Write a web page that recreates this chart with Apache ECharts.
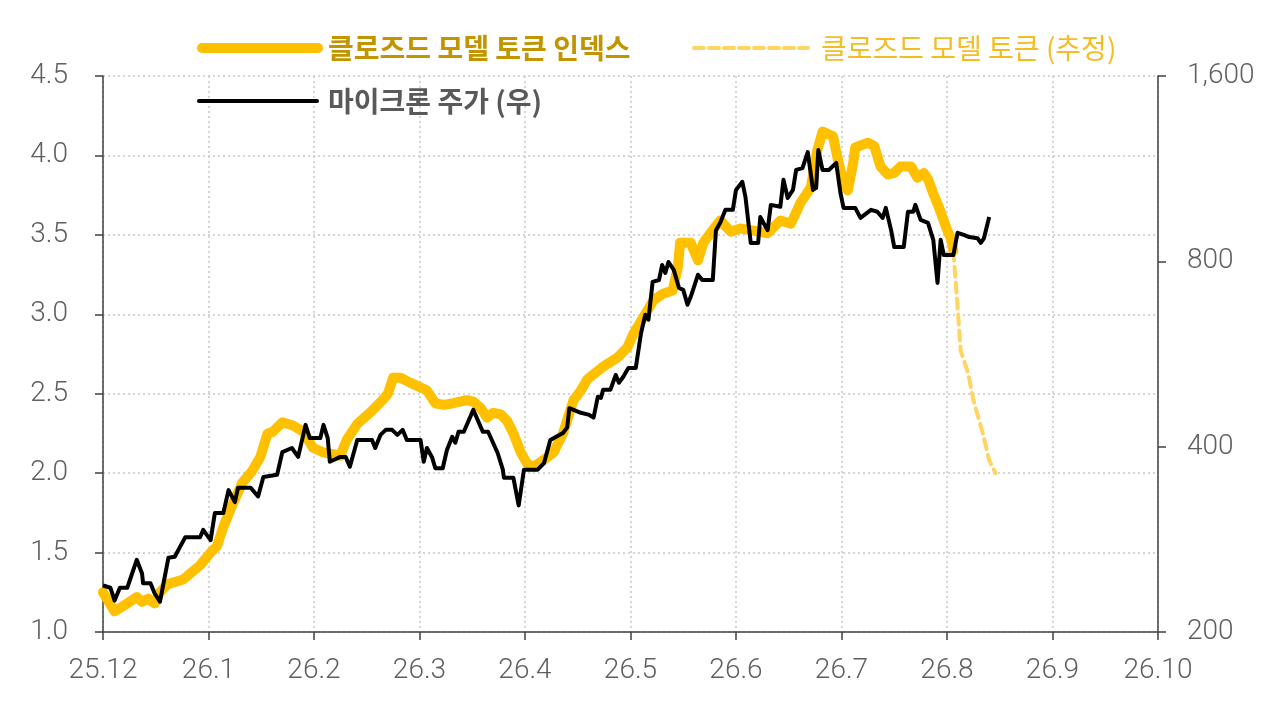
<!DOCTYPE html>
<html>
<head>
<meta charset="utf-8">
<title>클로즈드 모델 토큰 인덱스 / 마이크론 주가</title>
<script src="https://cdn.jsdelivr.net/npm/echarts@6/dist/echarts.min.js"></script>
<style>
  html, body { margin: 0; padding: 0; background: #fff; }
  #chart { width: 1280px; height: 719px; }
</style>
</head>
<body>
<div id="chart"></div>
<script>
// x 값은 25.12 기준 경과 개월 수 (0 = 25.12, 10 = 26.10)
const MONTH_LABELS = ['25.12', '26.1', '26.2', '26.3', '26.4', '26.5', '26.6', '26.7', '26.8', '26.9', '26.10'];
const PRICE_TICKS = [200, 400, 800, 1600];

// 클로즈드 모델 토큰 인덱스 (좌축)
const tokenIndex = [
  [0.00, 1.25], [0.11, 1.13], [0.23, 1.18], [0.32, 1.22], [0.37, 1.19], [0.43, 1.21], [0.49, 1.18],
  [0.54, 1.25], [0.61, 1.30], [0.76, 1.33], [0.83, 1.37], [0.92, 1.42], [1.02, 1.50], [1.08, 1.54],
  [1.14, 1.66], [1.22, 1.79], [1.32, 1.94], [1.41, 2.01], [1.49, 2.10], [1.56, 2.25], [1.61, 2.26],
  [1.70, 2.32], [1.80, 2.30], [1.90, 2.26], [1.99, 2.16], [2.09, 2.13], [2.18, 2.12], [2.25, 2.11],
  [2.31, 2.21], [2.41, 2.31], [2.53, 2.38], [2.65, 2.46], [2.70, 2.50], [2.75, 2.60], [2.82, 2.60],
  [2.91, 2.57], [3.01, 2.54], [3.07, 2.52], [3.15, 2.44], [3.23, 2.43], [3.32, 2.44], [3.45, 2.46],
  [3.51, 2.45], [3.58, 2.41], [3.64, 2.35], [3.70, 2.38], [3.77, 2.37], [3.83, 2.33], [3.89, 2.25],
  [3.96, 2.13], [4.02, 2.06], [4.08, 2.04], [4.15, 2.07], [4.27, 2.13], [4.36, 2.25], [4.46, 2.46],
  [4.53, 2.52], [4.59, 2.59], [4.74, 2.67], [4.88, 2.73], [4.97, 2.79], [5.03, 2.88], [5.12, 2.98],
  [5.22, 3.09], [5.31, 3.13], [5.40, 3.15], [5.45, 3.30], [5.47, 3.45], [5.57, 3.45], [5.64, 3.34],
  [5.69, 3.45], [5.78, 3.53], [5.85, 3.59], [5.95, 3.52], [6.04, 3.54], [6.14, 3.53], [6.30, 3.51],
  [6.42, 3.59], [6.52, 3.57], [6.61, 3.70], [6.71, 3.80], [6.77, 4.03], [6.82, 4.15], [6.92, 4.12],
  [6.96, 3.99], [7.02, 3.83], [7.06, 3.78], [7.11, 3.95], [7.13, 4.05], [7.25, 4.08], [7.31, 4.06],
  [7.37, 3.93], [7.44, 3.88], [7.50, 3.89], [7.56, 3.93], [7.66, 3.93], [7.72, 3.86], [7.78, 3.89],
  [7.82, 3.85], [7.87, 3.76], [7.92, 3.68], [7.99, 3.55], [8.04, 3.47], [8.06, 3.40]
];

// 클로즈드 모델 토큰 (추정, 좌축)
const tokenEstimate = [
  [8.06, 3.40], [8.10, 3.05], [8.13, 2.77], [8.20, 2.63], [8.25, 2.46], [8.34, 2.25], [8.40, 2.08], [8.46, 2.00]
];

// 마이크론 주가 (우축, 로그)
const micronPrice = [
  [0.00, 238], [0.07, 236], [0.11, 225], [0.16, 236], [0.23, 236], [0.32, 262], [0.37, 249], [0.38, 240],
  [0.45, 240], [0.49, 231], [0.54, 224], [0.62, 264], [0.68, 265], [0.73, 275], [0.78, 285], [0.92, 285],
  [0.95, 293], [1.02, 282], [1.06, 312], [1.14, 312], [1.19, 340], [1.25, 325], [1.28, 343], [1.40, 343],
  [1.47, 332], [1.52, 357], [1.65, 360], [1.70, 392], [1.79, 398], [1.85, 385], [1.92, 434], [1.96, 413],
  [2.06, 413], [2.09, 434], [2.13, 413], [2.15, 378], [2.25, 385], [2.30, 385], [2.34, 371], [2.41, 410],
  [2.55, 410], [2.58, 398], [2.63, 418], [2.68, 426], [2.74, 426], [2.79, 418], [2.84, 426], [2.88, 410],
  [3.01, 410], [3.04, 378], [3.07, 398], [3.12, 384], [3.15, 369], [3.22, 369], [3.26, 395], [3.31, 415],
  [3.34, 406], [3.37, 423], [3.42, 423], [3.51, 459], [3.60, 423], [3.65, 423], [3.74, 391], [3.79, 367],
  [3.80, 356], [3.89, 356], [3.94, 321], [3.99, 367], [4.12, 367], [4.18, 376], [4.24, 410], [4.36, 421],
  [4.40, 430], [4.42, 462], [4.53, 454], [4.60, 451], [4.65, 446], [4.69, 482], [4.72, 480], [4.74, 495],
  [4.81, 495], [4.86, 523], [4.89, 508], [4.93, 519], [4.98, 537], [5.05, 537], [5.10, 612], [5.14, 655],
  [5.17, 643], [5.21, 741], [5.27, 746], [5.30, 789], [5.33, 766], [5.36, 798], [5.41, 775], [5.46, 724],
  [5.50, 719], [5.54, 680], [5.57, 700], [5.64, 761], [5.68, 746], [5.78, 746], [5.81, 899], [5.85, 924],
  [5.90, 970], [5.97, 970], [6.00, 1045], [6.06, 1077], [6.09, 1017], [6.14, 857], [6.21, 857], [6.23, 944],
  [6.26, 924], [6.30, 899], [6.33, 988], [6.42, 981], [6.45, 1085], [6.49, 1014], [6.54, 1045], [6.57, 1126],
  [6.63, 1134], [6.68, 1204], [6.73, 1045], [6.76, 1053], [6.78, 1213], [6.82, 1126], [6.88, 1126], [6.95, 1156],
  [6.99, 1033], [7.02, 977], [7.13, 977], [7.18, 941], [7.28, 970], [7.34, 963], [7.39, 941], [7.42, 977],
  [7.47, 899], [7.50, 844], [7.59, 844], [7.63, 963], [7.68, 963], [7.70, 988], [7.75, 934], [7.82, 924],
  [7.87, 867], [7.91, 738], [7.94, 867], [7.97, 819], [8.06, 819], [8.10, 890], [8.16, 883], [8.21, 876],
  [8.29, 872], [8.32, 857], [8.35, 872], [8.40, 944]
];

const NAME_INDEX = '클로즈드 모델 토큰 인덱스';
const NAME_EST = '클로즈드 모델 토큰 (추정)';
const NAME_MU = '마이크론 주가 (우)';

const AXIS_COLOR = '#404040';
const LABEL_COLOR = '#5f5f5f';
const GRID_LINE = { show: true, lineStyle: { color: '#c8c8c8', width: 1.5, type: [2, 3] } };
const NUM_FONT = 'Roboto, "Noto Sans", sans-serif';
const KR_FONT = '"Noto Sans CJK KR", "Noto Sans", sans-serif';

const chart = echarts.init(document.getElementById('chart'));

const legendBase = {
  orient: 'horizontal',
  padding: 0,
  itemGap: 0,
  itemHeight: 28,
  itemStyle: { opacity: 0 },
  selectedMode: false,
};

chart.setOption({
  animation: false,
  backgroundColor: '#fff',
  legend: [
    Object.assign({}, legendBase, {
      data: [NAME_INDEX], left: 197, top: 34, itemWidth: 116,
      lineStyle: { width: 10, cap: 'round', type: 'solid' },
      textStyle: { fontFamily: KR_FONT, fontSize: 28, fontWeight: 'bold', color: '#c29400', padding: [0, 0, 0, 5] },
    }),
    Object.assign({}, legendBase, {
      data: [NAME_EST], left: 692, top: 34, itemWidth: 114,
      lineStyle: { width: 4, cap: 'round', type: [10, 5] },
      textStyle: { fontFamily: KR_FONT, fontSize: 28, color: '#f5bd22', padding: [0, 0, 0, 8] },
    }),
    Object.assign({}, legendBase, {
      data: [NAME_MU], left: 197, top: 87, itemWidth: 118,
      lineStyle: { width: 4, cap: 'round', type: 'solid' },
      textStyle: { fontFamily: KR_FONT, fontSize: 28, fontWeight: 'bold', color: '#595959', padding: [0, 0, 0, 6] },
    }),
  ],
  grid: { left: 103, right: 122, top: 76, bottom: 87 },
  xAxis: {
    type: 'value',
    min: 0,
    max: 10,
    interval: 1,
    axisLine: { show: true, onZero: false, lineStyle: { color: AXIS_COLOR, width: 1.5 } },
    axisTick: { show: true, length: 8, lineStyle: { color: AXIS_COLOR, width: 1.5 } },
    axisLabel: {
      margin: 25,
      fontFamily: NUM_FONT,
      fontWeight: 300,
      fontSize: 28,
      color: LABEL_COLOR,
      formatter: (v) => MONTH_LABELS[Math.round(v)] || '',
    },
    splitLine: GRID_LINE,
  },
  yAxis: [
    {
      type: 'value',
      min: 1,
      max: 4.5,
      interval: 0.5,
      position: 'left',
      axisLine: { show: true, lineStyle: { color: AXIS_COLOR, width: 1.5 } },
      axisTick: { show: true, length: 8, lineStyle: { color: AXIS_COLOR, width: 1.5 } },
      axisLabel: {
        margin: 35,
        fontFamily: NUM_FONT,
        fontWeight: 300,
        fontSize: 28,
        color: LABEL_COLOR,
        formatter: (v) => v.toFixed(1),
      },
      splitLine: GRID_LINE,
    },
    {
      type: 'log',
      logBase: 2,
      min: 200,
      max: 1600,
      position: 'right',
      axisLine: { show: true, lineStyle: { color: AXIS_COLOR, width: 1.5 } },
      axisTick: { show: true, length: 8, customValues: PRICE_TICKS, lineStyle: { color: AXIS_COLOR, width: 1.5 } },
      axisLabel: {
        margin: 29,
        customValues: PRICE_TICKS,
        fontFamily: NUM_FONT,
        fontWeight: 300,
        fontSize: 28,
        color: LABEL_COLOR,
        formatter: (v) => Math.round(v).toLocaleString('en-US'),
      },
      splitLine: { show: false },
    },
  ],
  series: [
    {
      name: NAME_INDEX,
      type: 'line',
      yAxisIndex: 0,
      data: tokenIndex,
      symbol: 'none',
      smooth: false,
      lineStyle: { color: '#ffc000', width: 10, cap: 'round', join: 'round' },
      itemStyle: { color: '#ffc000' },
      z: 2,
    },
    {
      name: NAME_EST,
      type: 'line',
      yAxisIndex: 0,
      data: tokenEstimate,
      symbol: 'none',
      lineStyle: { color: '#ffd560', width: 4, type: [10, 6], cap: 'round', join: 'round' },
      itemStyle: { color: '#ffd560' },
      z: 2,
    },
    {
      name: NAME_MU,
      type: 'line',
      yAxisIndex: 1,
      data: micronPrice,
      symbol: 'none',
      lineStyle: { color: '#000', width: 4, join: 'round' },
      itemStyle: { color: '#000' },
      z: 3,
    },
  ],
});
</script>
</body>
</html>
